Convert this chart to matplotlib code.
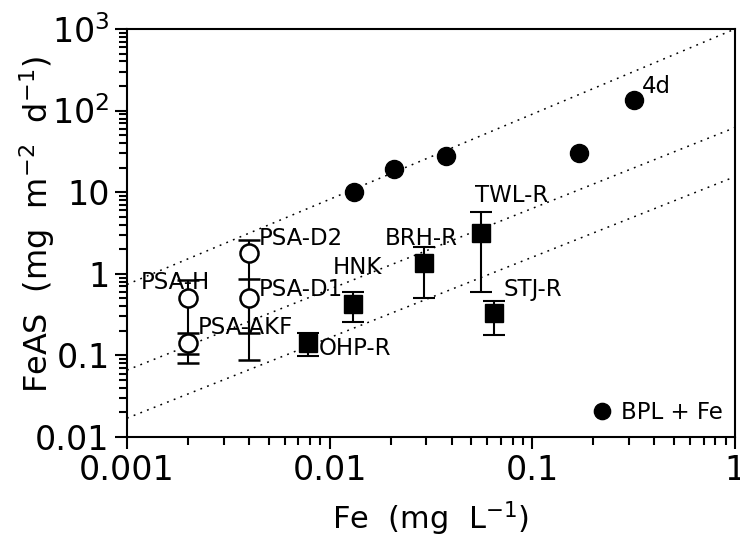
import numpy as np
import matplotlib
matplotlib.use("Agg")
import matplotlib.pyplot as plt
from matplotlib.ticker import FixedLocator, FuncFormatter, LogLocator, NullFormatter

# ---- data ----
bpl_x = [0.0132, 0.0208, 0.0375, 0.169, 0.316]
bpl_y = [10.0, 19.0, 27.5, 30.5, 134.0]
bpl_label = "BPL + Fe"

open_names = ["PSA-H", "PSA-AKF", "PSA-D2", "PSA-D1"]
open_x = [0.002, 0.002, 0.004, 0.004]
open_y = [0.5, 0.14, 1.8, 0.5]
open_hi = [0.85, 0.19, 2.6, 0.87]
open_lo = [0.08, 0.105, 0.19, 0.088]

sq_names = ["OHP-R", "HNK", "BRH-R", "TWL-R", "STJ-R"]
sq_x = [0.0078, 0.013, 0.0292, 0.056, 0.065]
sq_y = [0.143, 0.43, 1.37, 3.2, 0.333]
sq_hi = [0.19, 0.59, 2.15, 5.8, 0.47]
sq_lo = [0.097, 0.26, 0.51, 0.59, 0.18]

# reference lines: (y at x=0.001, y at x=1)
ref_lines = [(0.74, 1000.0), (0.066, 62.0), (0.017, 15.5)]

xticks = [0.001, 0.01, 0.1, 1]
xtick_labels = ["0.001", "0.01", "0.1", "1"]
yticks = [0.01, 0.1, 1, 10, 100, 1000]
ytick_labels = ["0.01", "0.1", "1", "10", r"$10^2$", r"$10^3$"]

# label offsets in pixels
open_off = {"PSA-H": (-47, 16), "PSA-AKF": (10, 16), "PSA-D2": (10, 14), "PSA-D1": (10, 9)}
sq_off = {"OHP-R": (11, -6), "HNK": (-20, 36), "BRH-R": (-39, 24), "TWL-R": (-6, 37), "STJ-R": (9, 23)}

plt.rcParams['font.family'] = ['DejaVu Sans']
plt.rcParams['mathtext.fontset'] = 'dejavusans'

fig = plt.figure(figsize=(7.4, 5.53), dpi=100)
ax = fig.add_axes([127/740, 1-437/553, (735-127)/740, (437-29)/553])
ax.set_xscale('log')
ax.set_yscale('log')
ax.set_xlim(0.001, 1)
ax.set_ylim(0.01, 1000)

# dotted lines
for y0, y1 in ref_lines:
    xs = np.array([0.001, 1.0])
    ax.plot(xs, [y0, y1], linestyle=(0, (1.2, 3.5)), color='black', lw=1.1, zorder=1)

ax.errorbar(open_x, open_y,
            yerr=[np.array(open_y) - np.array(open_lo), np.array(open_hi) - np.array(open_y)],
            fmt='o', mfc='white', mec='black', mew=1.8, ms=13, color='black',
            ecolor='black', elinewidth=1.5, capsize=8, capthick=1.5, zorder=3)
ax.errorbar(sq_x, sq_y,
            yerr=[np.array(sq_y) - np.array(sq_lo), np.array(sq_hi) - np.array(sq_y)],
            fmt='s', mfc='black', mec='black', ms=13, color='black',
            ecolor='black', elinewidth=1.5, capsize=8, capthick=1.5, zorder=3)
ax.plot(bpl_x, bpl_y, 'o', color='black', ms=13, zorder=4, label=bpl_label)

fs_lab = 16.5
for n, x, y in zip(open_names, open_x, open_y):
    ax.annotate(n, (x, y), xytext=open_off[n], textcoords='offset pixels',
                ha='left', va='center', fontsize=fs_lab, zorder=5)
for n, x, y in zip(sq_names, sq_x, sq_y):
    ax.annotate(n, (x, y), xytext=sq_off[n], textcoords='offset pixels',
                ha='left', va='center', fontsize=fs_lab, zorder=5)
ax.annotate("4d", (bpl_x[-1], bpl_y[-1]), xytext=(8, 14), textcoords='offset pixels',
            ha='left', va='center', fontsize=fs_lab)

leg = ax.legend(loc='lower right', frameon=False, fontsize=fs_lab, handletextpad=0.3,
                borderaxespad=0.15, markerscale=0.9, handlelength=1.0)

ax.xaxis.set_major_locator(FixedLocator(xticks))
ax.xaxis.set_major_formatter(FuncFormatter(lambda v, p: xtick_labels[min(range(len(xticks)), key=lambda i: abs(np.log10(xticks[i]) - np.log10(v)))]))
ax.yaxis.set_major_locator(FixedLocator(yticks))
ax.yaxis.set_major_formatter(FuncFormatter(lambda v, p: ytick_labels[min(range(len(yticks)), key=lambda i: abs(np.log10(yticks[i]) - np.log10(v)))]))
ax.xaxis.set_minor_locator(LogLocator(base=10, subs=np.arange(2, 10), numticks=20))
ax.yaxis.set_minor_locator(LogLocator(base=10, subs=np.arange(2, 10), numticks=20))
ax.xaxis.set_minor_formatter(NullFormatter())
ax.yaxis.set_minor_formatter(NullFormatter())

ax.tick_params(which='both', direction='out', top=False, right=False, width=1.5, labelsize=24)
ax.tick_params(which='major', length=8.5, pad=4)
ax.tick_params(which='minor', length=5.5)
for s in ax.spines.values():
    s.set_linewidth(1.5)

ax.set_xlabel(r"Fe  (mg  L$^{-1}$)", fontsize=22)
ax.set_ylabel(r"FeAS  (mg  m$^{-2}$  d$^{-1}$)", fontsize=23)
ax.xaxis.set_label_coords((430-127)/608, (437-500)/408)
ax.yaxis.set_label_coords((57-127)/608, (437-225)/408)

fig.savefig("out.png", dpi=100)
